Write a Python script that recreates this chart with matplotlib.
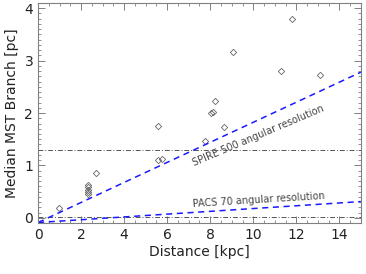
import matplotlib
matplotlib.use("Agg")
import matplotlib.pyplot as plt
import numpy as np
from matplotlib.ticker import MultipleLocator

# Data
distance_kpc = [0.95, 2.34, 2.34, 2.34, 2.34, 2.34, 2.68, 5.56, 5.58, 5.76,
                7.76, 8.04, 8.15, 8.24, 8.66, 9.08, 11.31, 11.78, 13.08]
median_branch_pc = [0.18, 0.46, 0.50, 0.54, 0.58, 0.63, 0.86, 1.75, 1.10, 1.12,
                    1.47, 2.01, 2.02, 2.23, 1.73, 3.17, 2.81, 3.80, 2.73]

line_x = [0, 15]
spire_y = [-0.09, 2.78]
pacs_y = [-0.09, 0.31]
hlines_y = [1.29, 0.02]

fig = plt.figure(figsize=(3.66, 2.74), dpi=100)
ax = fig.add_axes([0.104, 0.186, 0.882, 0.803])

gray = '#808080'
ax.plot(distance_kpc, median_branch_pc, linestyle='none', marker='D',
        markersize=3.2, markerfacecolor='none', markeredgecolor='#666666',
        markeredgewidth=0.6)

for h in hlines_y:
    ax.axhline(h, color='#555555', linestyle=(0, (5, 2, 1, 2)), linewidth=0.7)

ax.plot(line_x, spire_y, color='#1a1aff', linestyle=(0, (4, 3)), linewidth=1.1)
ax.plot(line_x, pacs_y, color='#1a1aff', linestyle=(0, (4, 3)), linewidth=1.1)

ax.text(10.25, 1.57, 'SPIRE 500 angular resolution', rotation=23,
        ha='center', va='center', fontsize=7, color='#444444',
        rotation_mode='anchor')
ax.text(10.25, 0.34, 'PACS 70 angular resolution', rotation=3.5,
        ha='center', va='center', fontsize=7, color='#444444',
        rotation_mode='anchor')

ax.set_xlim(0, 15)
ax.set_ylim(-0.1, 4.1)
ax.xaxis.set_major_locator(MultipleLocator(2))
ax.xaxis.set_minor_locator(MultipleLocator(0.5))
ax.yaxis.set_major_locator(MultipleLocator(1))
ax.yaxis.set_minor_locator(MultipleLocator(0.1))
ax.tick_params(which='both', direction='in', top=True, right=True,
               color=gray, labelsize=10, labelcolor='#222222')
ax.tick_params(which='major', length=5, width=0.7)
ax.tick_params(which='minor', length=2.5, width=0.6)
for s in ax.spines.values():
    s.set_color(gray)
    s.set_linewidth(0.8)

ax.set_xlabel('Distance [kpc]', fontsize=10, color='#222222', labelpad=2)
ax.set_ylabel('Median MST Branch [pc]', fontsize=10, color='#222222', labelpad=4)

fig.savefig('out.png', dpi=100)
